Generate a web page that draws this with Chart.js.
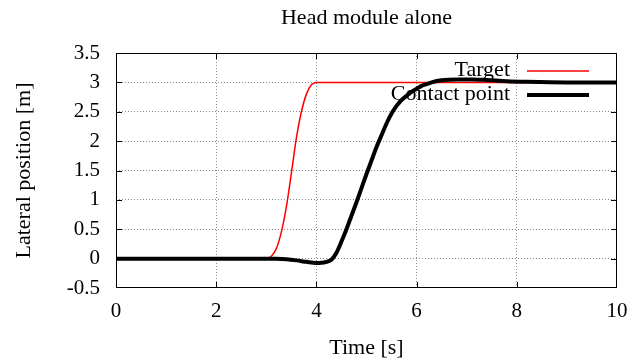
<!DOCTYPE html>
<html>
<head>
<meta charset="utf-8">
<script src="https://cdn.jsdelivr.net/npm/chart.js@4"></script>
<style>
  html, body { margin: 0; padding: 0; background: #fff; }
  #chart { display: block; }
</style>
</head>
<body>
<canvas id="chart" width="632" height="363"></canvas>
<script>
// values
const timeTarget = [0, 3.0, 3.1, 3.2, 3.3, 3.4, 3.5, 3.6, 3.7, 3.8, 3.9, 4.0, 10];
const targetPos  = [0, 0, 0.04, 0.17, 0.45, 0.88, 1.45, 2.05, 2.5, 2.8, 2.96, 3.0, 3.0];

const timeContact = [0, 3.0, 3.2, 3.4, 3.6, 3.8, 4.0, 4.1, 4.2, 4.3, 4.4, 4.5, 4.6, 4.7, 4.8, 4.9,
  5.0, 5.1, 5.2, 5.3, 5.4, 5.5, 5.6, 5.7, 5.8, 5.9, 6.0, 6.1, 6.2, 6.3, 6.5, 6.8, 7.1, 7.4, 7.8, 8.2, 9, 10];
const contactPos  = [0, 0, -0.003, -0.012, -0.03, -0.055, -0.075, -0.072, -0.055, -0.02, 0.1, 0.29, 0.5, 0.73, 0.96, 1.2,
  1.44, 1.67, 1.9, 2.1, 2.3, 2.47, 2.6, 2.7, 2.77, 2.84, 2.89, 2.94, 2.97, 3.0, 3.035, 3.05, 3.05, 3.04, 3.02, 3.01, 3.0, 3.0];

const xTickValues = [0, 2, 4, 6, 8, 10];
const yTickValues = [-0.5, 0, 0.5, 1, 1.5, 2, 2.5, 3, 3.5];

const seriesLabels = ['Target', 'Contact point'];
const chartTitle = 'Head module alone';
const xTitle = 'Time [s]';
const yTitle = 'Lateral position [m]';

const FONT = '"Liberation Serif", "Times New Roman", serif';

const toPoints = (xs, ys) => xs.map((x, i) => ({ x: x, y: ys[i] }));

// grid only on inner ticks, like gnuplot
const innerGrid = (ctx) => {
  const n = ctx.scale.ticks.length;
  return (ctx.index === 0 || ctx.index === n - 1) ? 'rgba(0,0,0,0)' : '#8a8a8a';
};

// frame, inward mirrored ticks, title and key (gnuplot look)
const gnuplotDecor = {
  id: 'gnuplotDecor',
  beforeDatasetsDraw(chart) {
    const { ctx, chartArea: a, scales } = chart;
    ctx.save();
    ctx.strokeStyle = '#000';
    ctx.lineWidth = 1;
    ctx.strokeRect(a.left + 0.5, a.top + 0.5, a.right - a.left - 1, a.bottom - a.top - 1);
    const len = 6;
    ctx.beginPath();
    xTickValues.slice(1, -1).forEach(v => {
      const px = Math.round(scales.x.getPixelForValue(v)) + 0.5;
      ctx.moveTo(px, a.bottom); ctx.lineTo(px, a.bottom - len);
      ctx.moveTo(px, a.top); ctx.lineTo(px, a.top + len);
    });
    yTickValues.slice(1, -1).forEach(v => {
      const py = Math.round(scales.y.getPixelForValue(v)) + 0.5;
      ctx.moveTo(a.left, py); ctx.lineTo(a.left + len, py);
      ctx.moveTo(a.right, py); ctx.lineTo(a.right - len, py);
    });
    ctx.stroke();
    ctx.restore();
  },
  afterDatasetsDraw(chart) {
    const { ctx, chartArea: a } = chart;
    ctx.save();
    ctx.fillStyle = '#000';
    ctx.font = '22px ' + FONT;
    ctx.textBaseline = 'middle';
    ctx.textAlign = 'center';
    ctx.fillText(chartTitle, (a.left + a.right) / 2, 18);

    // key: text right-aligned, sample line after it
    ctx.textAlign = 'right';
    chart.data.datasets.forEach((ds, i) => {
      const y = a.top + 17.5 + i * 24;
      ctx.fillStyle = '#000';
      ctx.fillText(ds.label, a.right - 107, y);
      ctx.strokeStyle = ds.borderColor;
      ctx.lineWidth = ds.borderWidth;
      ctx.beginPath();
      ctx.moveTo(a.right - 90, y + 0.5);
      ctx.lineTo(a.right - 28, y + 0.5);
      ctx.stroke();
    });
    ctx.restore();
  }
};

new Chart(document.getElementById('chart'), {
  type: 'line',
  data: {
    datasets: [
      {
        label: seriesLabels[0],
        data: toPoints(timeTarget, targetPos),
        borderColor: '#ff0000',
        borderWidth: 1.5,
        pointRadius: 0,
        fill: false,
        cubicInterpolationMode: 'monotone',
        order: 2
      },
      {
        label: seriesLabels[1],
        data: toPoints(timeContact, contactPos),
        borderColor: '#000000',
        borderWidth: 4,
        pointRadius: 0,
        fill: false,
        cubicInterpolationMode: 'monotone',
        order: 1
      }
    ]
  },
  options: {
    responsive: false,
    animation: false,
    layout: { padding: { top: 53, right: 15, left: 0, bottom: 0 } },
    plugins: {
      legend: { display: false },
      title: { display: false },
      tooltip: { enabled: false }
    },
    scales: {
      x: {
        type: 'linear',
        min: 0,
        max: 10,
        afterBuildTicks: (scale) => { scale.ticks = xTickValues.map(v => ({ value: v })); },
        afterFit: (scale) => {
          scale.height = 75;
          scale.paddingLeft = 0;
          scale.paddingRight = 0;
        },
        ticks: {
          color: '#000',
          font: { family: FONT, size: 21 },
          padding: 11,
          maxRotation: 0,
          callback: (v) => String(v)
        },
        grid: { color: innerGrid, lineWidth: 1, drawTicks: false },
        border: { display: false, dash: [1, 2] },
        title: {
          display: true,
          text: xTitle,
          color: '#000',
          font: { family: FONT, size: 22 },
          padding: { top: 0, bottom: 2 }
        }
      },
      y: {
        type: 'linear',
        min: -0.5,
        max: 3.5,
        afterBuildTicks: (scale) => { scale.ticks = yTickValues.map(v => ({ value: v })); },
        afterFit: (scale) => {
          scale.width = 116;
          scale.paddingTop = 0;
          scale.paddingBottom = 0;
        },
        ticks: {
          color: '#000',
          font: { family: FONT, size: 21 },
          padding: 16,
          callback: (v) => String(v)
        },
        grid: { color: innerGrid, lineWidth: 1, drawTicks: false },
        border: { display: false, dash: [1, 2] },
        title: {
          display: true,
          text: yTitle,
          color: '#000',
          font: { family: FONT, size: 22 },
          padding: { top: 11, bottom: 0 }
        }
      }
    }
  },
  plugins: [gnuplotDecor]
});
</script>
</body>
</html>
